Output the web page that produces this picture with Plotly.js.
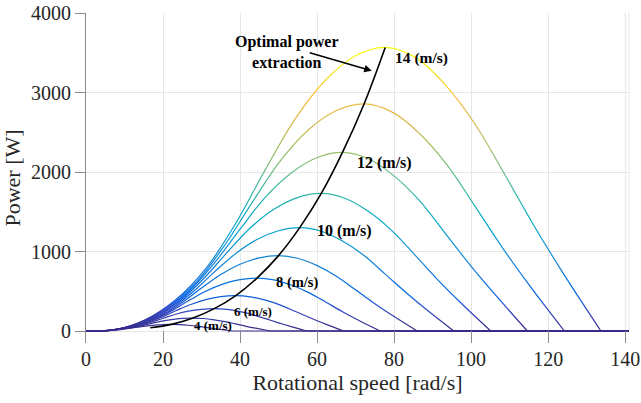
<!DOCTYPE html>
<html>
<head>
<meta charset="utf-8">
<script src="https://cdn.plot.ly/plotly-3.0.1.min.js"></script>
<style>html,body{margin:0;padding:0;background:#fff;}#chart{width:641px;height:403px;}</style>
</head>
<body>
<div id="chart"></div>
<script>
// ---- Data ----
// Rotational speed [rad/s] and power [W] along each wind-speed curve
const speeds = [14, 13, 12, 11, 10, 9, 8, 7, 6, 5, 4];

const omega14 = [0, 7.8, 15.5, 23.3, 31.1, 38.9, 46.6, 54.4, 62.2, 69.9, 77.7, 85.5, 93.2, 101.0, 108.8, 116.6, 124.3, 133.7];
const power14 = [0, 18, 143, 392, 785, 1355, 2033, 2675, 3157, 3460, 3567, 3442, 3103, 2604, 1962, 1302, 696, 0];

const omega13 = [0, 7.2, 14.4, 21.6, 28.9, 36.1, 43.3, 50.5, 57.7, 64.9, 72.2, 79.4, 86.6, 93.8, 101.0, 108.2, 115.4, 124.2];
const power13 = [0, 14, 114, 314, 628, 1085, 1628, 2142, 2528, 2770, 2856, 2756, 2485, 2085, 1571, 1042, 557, 0];

const omega12 = [0, 6.7, 13.3, 20.0, 26.6, 33.3, 40.0, 46.6, 53.3, 59.9, 66.6, 73.3, 79.9, 86.6, 93.2, 99.9, 106.6, 114.6];
const power12 = [0, 11, 90, 247, 494, 853, 1280, 1685, 1988, 2179, 2246, 2167, 1954, 1640, 1235, 820, 438, 0];

const omega11 = [0, 6.1, 12.2, 18.3, 24.4, 30.5, 36.6, 42.7, 48.8, 54.9, 61.1, 67.2, 73.3, 79.4, 85.5, 91.6, 97.7, 105.1];
const power11 = [0, 8.7, 69, 190, 381, 657, 986, 1298, 1531, 1678, 1730, 1669, 1505, 1263, 952, 631, 337, 0];

const omega10 = [0, 5.6, 11.1, 16.7, 22.2, 27.8, 33.3, 38.9, 44.4, 50.0, 55.5, 61.1, 66.6, 72.2, 77.7, 83.3, 88.8, 95.5];
const power10 = [0, 6.5, 52, 143, 286, 494, 741, 975, 1151, 1261, 1300, 1255, 1131, 949, 715, 475, 254, 0];

const omega9 = [0, 5.0, 10.0, 15.0, 20.0, 25.0, 30.0, 35.0, 40.0, 45.0, 50.0, 54.9, 59.9, 64.9, 69.9, 74.9, 79.9, 86.0];
const power9 = [0, 4.7, 38, 104, 209, 360, 540, 711, 839, 920, 948, 915, 825, 692, 521, 346, 185, 0];

const omega8 = [0, 4.4, 8.9, 13.3, 17.8, 22.2, 26.6, 31.1, 35.5, 40.0, 44.4, 48.8, 53.3, 57.7, 62.2, 66.6, 71.0, 76.4];
const power8 = [0, 3.3, 27, 73, 147, 253, 380, 500, 589, 646, 666, 643, 579, 486, 366, 243, 130, 0];

const omega7 = [0, 3.9, 7.8, 11.7, 15.5, 19.4, 23.3, 27.2, 31.1, 35.0, 38.9, 42.7, 46.6, 50.5, 54.4, 58.3, 62.2, 66.9];
const power7 = [0, 2.2, 18, 49, 98, 169, 254, 334, 395, 433, 446, 430, 388, 326, 245, 163, 87, 0];

const omega6 = [0, 3.3, 6.7, 10.0, 13.3, 16.7, 20.0, 23.3, 26.6, 30.0, 33.3, 36.6, 40.0, 43.3, 46.6, 50.0, 53.3, 57.3];
const power6 = [0, 1.4, 11, 31, 62, 107, 160, 211, 249, 272, 281, 271, 244, 205, 155, 103, 55, 0];

const omega5 = [0, 2.8, 5.6, 8.3, 11.1, 13.9, 16.7, 19.4, 22.2, 25.0, 27.8, 30.5, 33.3, 36.1, 38.9, 41.6, 44.4, 47.8];
const power5 = [0, 0.8, 6.5, 18, 36, 62, 93, 122, 144, 158, 163, 157, 141, 119, 89, 59, 32, 0];

const omega4 = [0, 2.2, 4.4, 6.7, 8.9, 11.1, 13.3, 15.5, 17.8, 20.0, 22.2, 24.4, 26.6, 28.9, 31.1, 33.3, 35.5, 38.2];
const power4 = [0, 0.4, 3, 9, 18, 32, 47, 62, 73, 81, 83, 80, 72, 61, 46, 30, 16, 0];

// Optimal power extraction (locus of curve peaks, from 3 m/s to 14 m/s)
const optOmega = [16.7, 22.2, 27.8, 33.3, 38.9, 44.4, 50.0, 55.5, 61.1, 66.6, 72.2, 77.7];
const optPower = [40, 83, 163, 281, 446, 666, 948, 1300, 1730, 2246, 2856, 3567];

// Speed range end (curves stay at 0 W up to here)
const omegaEnd = 141;

// Tick values / labels
const xTicks = [0, 20, 40, 60, 80, 100, 120, 140];
const yTicks = [0, 1000, 2000, 3000, 4000];

// Curve labels
const curveLabels = ['14 (m/s)', '12 (m/s)', '10 (m/s)', '8 (m/s)', '6 (m/s)', '4 (m/s)'];
const xTitle = 'Rotational speed [rad/s]';
const yTitle = 'Power [W]';

// ---- Build traces ----
const omegaSets = [omega14, omega13, omega12, omega11, omega10, omega9, omega8, omega7, omega6, omega5, omega4];
const powerSets = [power14, power13, power12, power11, power10, power9, power8, power7, power6, power5, power4];

const parula = ['#352A87','#363093','#3637A0','#353DAD','#3243BA','#2C4AC7','#2053D4','#0F5CDD',
 '#0363E1','#0268E1','#046DE0','#0871DE','#0D75DC','#1079DA','#127DD8','#1481D6',
 '#1485D4','#1389D3','#108ED2','#0C93D2','#0998D1','#079CCF','#06A0CD','#06A4CA',
 '#06A7C6','#07A9C2','#0CACBE','#13AEB9','#1BB0B4','#24B2AE','#2EB4A9','#38B6A3',
 '#42B89D','#4DBA97','#57BC90','#63BD89','#6EBE82','#7ABE7B','#86BF74','#91BF6D',
 '#9CBE67','#A7BE61','#B1BD5C','#BBBC57','#C4BB52','#CDB94F','#D6B84B','#DDB74A',
 '#E2B848','#E8B945','#EDBB42','#F2BD3E','#F7C13A','#FAC637','#F9CC34','#F6D230',
 '#F4D82C','#F3DE27','#F4E424','#F5EA20','#F6EF1D','#F8F418','#F9F914','#F9FB0E'];

const traces = [];
// zero-power tails
omegaSets.forEach((om) => {
  traces.push({
    x: [om[om.length - 1], omegaEnd], y: [0, 0],
    type: 'scatter', mode: 'lines', hoverinfo: 'skip', showlegend: false,
    line: {color: parula[0], width: 1.2}
  });
});
// power curves
omegaSets.forEach((om, i) => {
  traces.push({
    x: om, y: powerSets[i], name: speeds[i] + ' m/s',
    type: 'scatter', mode: 'lines', showlegend: false,
    line: {color: parula[0], width: 1.2, shape: 'spline', smoothing: 1}
  });
});
const nGrad = traces.length;
// optimal power line
traces.push({
  x: optOmega, y: optPower, name: 'Optimal power extraction',
  type: 'scatter', mode: 'lines', showlegend: false,
  line: {color: '#000000', width: 1.6, shape: 'spline', smoothing: 1}
});

const serif = 'Liberation Serif, Times New Roman, serif';
const labelPos = [[87.2, 3438, 15.5], [77.6, 2109, 16], [67.0, 1258, 16], [54.8, 613, 14.5], [43.4, 243, 13], [33.1, 63, 13]];
const annotations = curveLabels.map((t, i) => ({
  x: labelPos[i][0], y: labelPos[i][1], xref: 'x', yref: 'y',
  text: '<b>' + t + '</b>', showarrow: false,
  font: {family: serif, size: labelPos[i][2], color: '#000'}
}));
annotations.push({
  x: 52.1, y: 3509, xref: 'x', yref: 'y', text: '<b>Optimal power</b><br><b>extraction</b>',
  showarrow: false, font: {family: serif, size: 16, color: '#000'}
});
annotations.push({
  x: 74.2, y: 3274, xref: 'x', yref: 'y', ax: 57.7, ay: 3506, axref: 'x', ayref: 'y',
  text: '', showarrow: true, arrowhead: 2, arrowsize: 1, arrowwidth: 1.5, arrowcolor: '#000'
});

const layout = {
  width: 641, height: 403,
  margin: {l: 86, r: 12, t: 13, b: 60},
  paper_bgcolor: '#fff', plot_bgcolor: '#fff',
  showlegend: false,
  font: {family: serif, color: '#262626'},
  xaxis: {
    range: [0, omegaEnd], tickvals: xTicks, ticktext: xTicks.map(String),
    ticks: 'inside', ticklen: 12, tickwidth: 1, tickcolor: '#8c8c8c',
    ticklabelstandoff: 2,
    showline: false, zeroline: false, showgrid: true, gridcolor: '#e6e6e6', gridwidth: 1,
    tickfont: {family: serif, size: 20, color: '#262626'},
    title: {text: xTitle, font: {family: serif, size: 22, color: '#262626'}, standoff: 5}
  },
  yaxis: {
    range: [-151, 4000], tickvals: yTicks, ticktext: yTicks.map(String),
    ticks: 'outside', ticklen: 10, tickwidth: 1, tickcolor: '#8c8c8c',
    showline: true, linecolor: '#8c8c8c', linewidth: 1,
    zeroline: false, showgrid: true, gridcolor: '#e6e6e6', gridwidth: 1,
    tickfont: {family: serif, size: 20, color: '#262626'},
    title: {text: yTitle, font: {family: serif, size: 22, color: '#262626'}, standoff: 4}
  },
  shapes: [{type: 'line', xref: 'paper', yref: 'y', x0: 1, x1: 1, y0: 0, y1: 4000,
            line: {color: '#e6e6e6', width: 1}, layer: 'below'}],
  annotations: annotations
};

const gd = document.getElementById('chart');
Plotly.newPlot(gd, traces, layout, {displayModeBar: false, staticPlot: true}).then(() => {
  // colour each curve by its power level (parula map from 0 W to the largest power)
  const pMax = Math.max(...powerSets.map(a => Math.max(...a)));
  const ya = gd._fullLayout.yaxis;
  const y0 = ya.l2p(0), y1 = ya.l2p(pMax);
  const ns = 'http://www.w3.org/2000/svg';
  const svg = gd.querySelector('svg.main-svg');
  let defs = svg.querySelector('defs');
  if (!defs) { defs = document.createElementNS(ns, 'defs'); svg.insertBefore(defs, svg.firstChild); }
  const grad = document.createElementNS(ns, 'linearGradient');
  grad.setAttribute('id', 'parulaGrad');
  grad.setAttribute('gradientUnits', 'userSpaceOnUse');
  grad.setAttribute('x1', 0); grad.setAttribute('x2', 0);
  grad.setAttribute('y1', y0); grad.setAttribute('y2', y1);
  parula.forEach((c, i) => {
    const s = document.createElementNS(ns, 'stop');
    s.setAttribute('offset', (i / (parula.length - 1)).toFixed(4));
    s.setAttribute('stop-color', c);
    grad.appendChild(s);
  });
  defs.appendChild(grad);
  const trs = gd.querySelectorAll('.scatterlayer .trace');
  trs.forEach((tr, i) => {
    if (i < nGrad) tr.querySelectorAll('path.js-line').forEach(p => { p.style.stroke = 'url(#parulaGrad)'; });
  });
});
</script>
</body>
</html>
